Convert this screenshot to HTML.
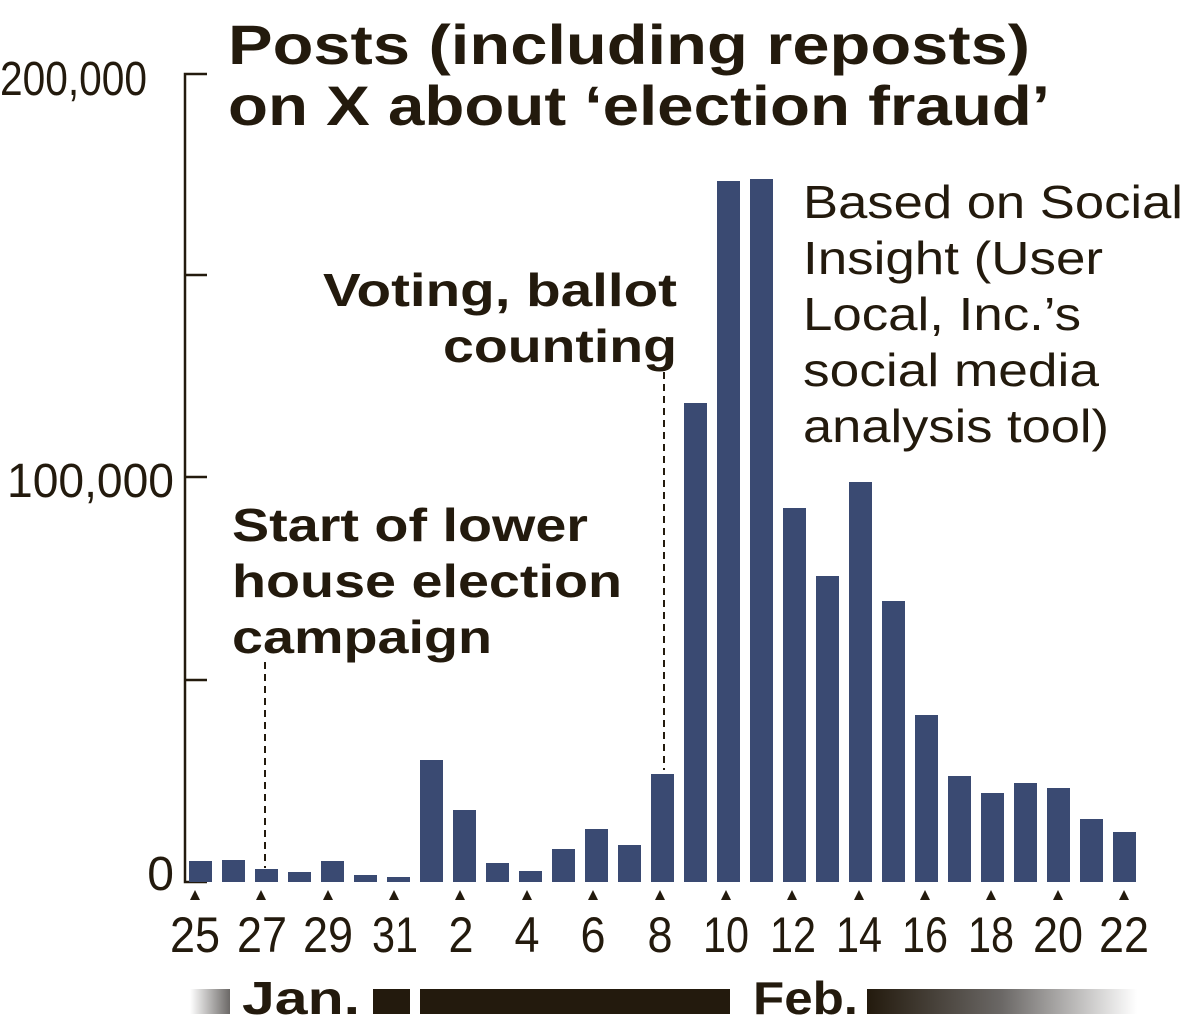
<!DOCTYPE html>
<html><head><meta charset="utf-8"><style>
html,body{margin:0;padding:0;background:#fff;}
svg{display:block;}
text{font-family:"Liberation Sans",sans-serif;fill:#231a0d;}
.b{font-weight:bold;}
</style></head><body>
<svg width="1200" height="1031" viewBox="0 0 1200 1031" xmlns="http://www.w3.org/2000/svg">
<defs>
<linearGradient id="gl" x1="0" x2="1"><stop offset="0" stop-color="#fff"/><stop offset="1" stop-color="#6b6866"/></linearGradient>
<linearGradient id="gr" x1="0" x2="1"><stop offset="0" stop-color="#231a0d"/><stop offset="0.5" stop-color="#6b6866"/><stop offset="1" stop-color="#fff"/></linearGradient>
</defs>
<!-- title -->
<text class="b" x="228" y="64" font-size="56" textLength="802" lengthAdjust="spacingAndGlyphs">Posts (including reposts)</text>
<text class="b" x="228" y="125" font-size="56" textLength="822" lengthAdjust="spacingAndGlyphs">on X about ‘election fraud’</text>
<!-- y axis -->
<g stroke="#231a0d" stroke-width="2.5" fill="none">
<path d="M207 74 H185 V882 H207"/>
<path d="M185 275 H207 M185 477 H207 M185 680 H207"/>
</g>
<text x="147" y="95" font-size="48" text-anchor="end" textLength="147" lengthAdjust="spacingAndGlyphs">200,000</text>
<text x="174" y="497" font-size="48" text-anchor="end" textLength="167" lengthAdjust="spacingAndGlyphs">100,000</text>
<text x="174" y="890" font-size="48" text-anchor="end">0</text>
<!-- bars -->
<g fill="#3a4a72">
<rect x="189" y="861" width="23" height="21"/>
<rect x="222" y="860" width="23" height="22"/>
<rect x="255" y="869" width="23" height="13"/>
<rect x="288" y="872" width="23" height="10"/>
<rect x="321" y="861" width="23" height="21"/>
<rect x="354" y="875" width="23" height="7"/>
<rect x="387" y="877" width="23" height="5"/>
<rect x="420" y="760" width="23" height="122"/>
<rect x="453" y="810" width="23" height="72"/>
<rect x="486" y="863" width="23" height="19"/>
<rect x="519" y="871" width="23" height="11"/>
<rect x="552" y="849" width="23" height="33"/>
<rect x="585" y="829" width="23" height="53"/>
<rect x="618" y="845" width="23" height="37"/>
<rect x="651" y="774" width="23" height="108"/>
<rect x="684" y="403" width="23" height="479"/>
<rect x="717" y="181" width="23" height="701"/>
<rect x="750" y="179" width="23" height="703"/>
<rect x="783" y="508" width="23" height="374"/>
<rect x="816" y="576" width="23" height="306"/>
<rect x="849" y="482" width="23" height="400"/>
<rect x="882" y="601" width="23" height="281"/>
<rect x="915" y="715" width="23" height="167"/>
<rect x="948" y="776" width="23" height="106"/>
<rect x="981" y="793" width="23" height="89"/>
<rect x="1014" y="783" width="23" height="99"/>
<rect x="1047" y="788" width="23" height="94"/>
<rect x="1080" y="819" width="23" height="63"/>
<rect x="1113" y="832" width="23" height="50"/>
</g>
<!-- dashed lines -->
<g stroke="#231a0d" stroke-width="2" stroke-dasharray="7,5">
<line x1="265" y1="662" x2="265" y2="868"/>
<line x1="664" y1="372" x2="664" y2="770"/>
</g>
<!-- ticks and labels -->
<g fill="#231a0d">
<path d="M195 890 l-5 10 h10z"/><path d="M261 890 l-5 10 h10z"/><path d="M328 890 l-5 10 h10z"/><path d="M394 890 l-5 10 h10z"/>
<path d="M460 890 l-5 10 h10z"/><path d="M527 890 l-5 10 h10z"/><path d="M593 890 l-5 10 h10z"/><path d="M660 890 l-5 10 h10z"/>
<path d="M726 890 l-5 10 h10z"/><path d="M792 890 l-5 10 h10z"/><path d="M859 890 l-5 10 h10z"/><path d="M925 890 l-5 10 h10z"/>
<path d="M991 890 l-5 10 h10z"/><path d="M1058 890 l-5 10 h10z"/><path d="M1124 890 l-5 10 h10z"/>
</g>
<g font-size="50" text-anchor="middle">
<text x="195" y="952" textLength="50" lengthAdjust="spacingAndGlyphs">25</text>
<text x="262" y="952" textLength="50" lengthAdjust="spacingAndGlyphs">27</text>
<text x="328" y="952" textLength="50" lengthAdjust="spacingAndGlyphs">29</text>
<text x="395" y="952" textLength="46" lengthAdjust="spacingAndGlyphs">31</text>
<text x="461" y="952" textLength="25" lengthAdjust="spacingAndGlyphs">2</text>
<text x="527" y="952" textLength="25" lengthAdjust="spacingAndGlyphs">4</text>
<text x="593" y="952" textLength="25" lengthAdjust="spacingAndGlyphs">6</text>
<text x="660" y="952" textLength="25" lengthAdjust="spacingAndGlyphs">8</text>
<text x="726" y="952" textLength="46" lengthAdjust="spacingAndGlyphs">10</text>
<text x="793" y="952" textLength="46" lengthAdjust="spacingAndGlyphs">12</text>
<text x="859" y="952" textLength="46" lengthAdjust="spacingAndGlyphs">14</text>
<text x="925" y="952" textLength="46" lengthAdjust="spacingAndGlyphs">16</text>
<text x="991" y="952" textLength="46" lengthAdjust="spacingAndGlyphs">18</text>
<text x="1058" y="952" textLength="50" lengthAdjust="spacingAndGlyphs">20</text>
<text x="1124" y="952" textLength="50" lengthAdjust="spacingAndGlyphs">22</text>
</g>
<!-- month bar -->
<rect x="190" y="989" width="40" height="25" fill="url(#gl)"/>
<text class="b" x="242" y="1014" font-size="46" textLength="118" lengthAdjust="spacingAndGlyphs">Jan.</text>
<rect x="373" y="989" width="37" height="25" fill="#231a0d"/>
<rect x="420" y="989" width="310" height="25" fill="#231a0d"/>
<text class="b" x="753" y="1014" font-size="46" textLength="105" lengthAdjust="spacingAndGlyphs">Feb.</text>
<rect x="867" y="989" width="270" height="25" fill="url(#gr)"/>
<!-- annotations -->
<g class="b" font-size="46" font-weight="bold">
<text x="677" y="306" text-anchor="end" textLength="354" lengthAdjust="spacingAndGlyphs">Voting, ballot</text>
<text x="677" y="362" text-anchor="end" textLength="234" lengthAdjust="spacingAndGlyphs">counting</text>
<text x="232" y="541" textLength="356" lengthAdjust="spacingAndGlyphs">Start of lower</text>
<text x="232" y="597" textLength="390" lengthAdjust="spacingAndGlyphs">house election</text>
<text x="232" y="653" textLength="260" lengthAdjust="spacingAndGlyphs">campaign</text>
</g>
<g font-size="46">
<text x="803" y="218" textLength="380" lengthAdjust="spacingAndGlyphs">Based on Social</text>
<text x="803" y="274" textLength="300" lengthAdjust="spacingAndGlyphs">Insight (User</text>
<text x="803" y="330" textLength="278" lengthAdjust="spacingAndGlyphs">Local, Inc.’s</text>
<text x="803" y="386" textLength="296" lengthAdjust="spacingAndGlyphs">social media</text>
<text x="803" y="442" textLength="306" lengthAdjust="spacingAndGlyphs">analysis tool)</text>
</g>
</svg>
</body></html>
